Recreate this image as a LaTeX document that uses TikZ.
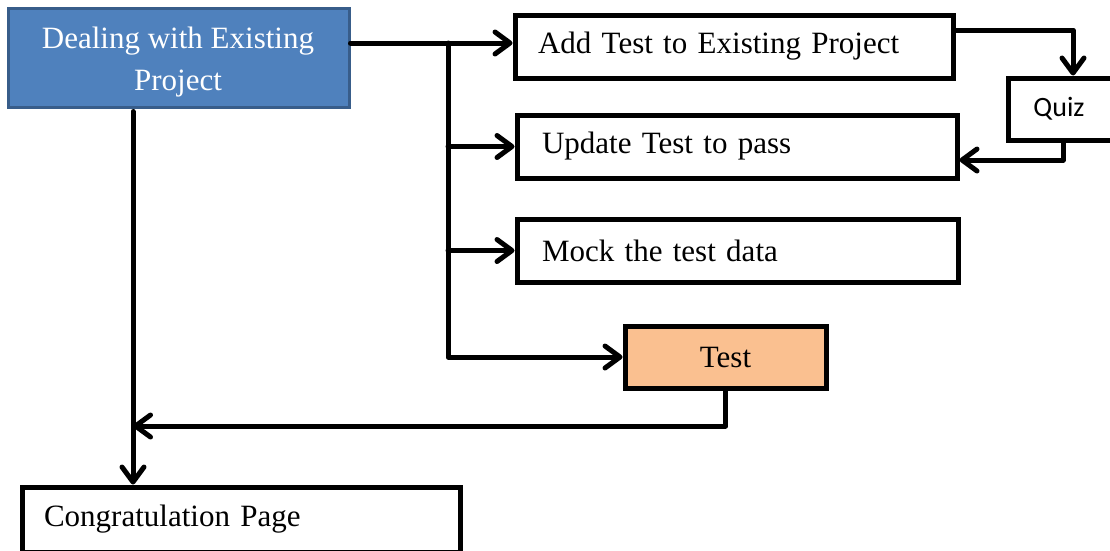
\documentclass[tikz,border=0pt]{standalone}
\usepackage{fontspec}
\setmainfont{Liberation Serif}
\newfontfamily\quizfont{Carlito}
\usetikzlibrary{arrows.meta}

\definecolor{headblue}{HTML}{4F81BD}
\definecolor{headedge}{HTML}{385D8A}
\definecolor{testfill}{HTML}{FAC090}

\tikzset{
  box/.style={draw=black, line width=5pt, fill=white, inner ysep=0pt,
    font=\fontsize{31}{36}\selectfont},
  leftbox/.style={box, align=left},
  wire/.style={line width=5pt, line cap=round, line join=round},
  arr/.style={wire, -{Straight Barb[length=15pt, width=22pt, line width=5pt, round]}},
}

\begin{document}
\begin{tikzpicture}[x=1pt, y=-1pt]
\useasboundingbox (0,0) rectangle (1110,550);

% header box and its two-line title
\node[draw=headedge, line width=3pt, fill=headblue,
      minimum width=341pt, minimum height=99pt, inner sep=0pt] (head) at (178.5,57.5) {};
\node[text=white, align=center, inner sep=0pt,
      font=\fontsize{31}{42}\selectfont] (title) at (178,62.5)
  {Dealing with Existing\\Project};

% step boxes on the right
\node[leftbox, text width=392pt, inner xsep=23pt, minimum height=63pt] (add) at (734,46.5)
  {Add Test to Existing Project};
\node[leftbox, text width=390pt, inner xsep=25pt, minimum height=63pt] (upd) at (737,146.5)
  {Update Test to pass};
\node[leftbox, text width=391pt, inner xsep=25pt, minimum height=63pt] (mock) at (737.5,250.5)
  {Mock the test data};
\node[box, fill=testfill, minimum width=201pt, minimum height=62pt, inner xsep=0pt] (test) at (725.5,357)
  {Test};
\node[box, minimum width=106pt, minimum height=62pt, inner xsep=0pt,
      font=\quizfont\fontsize{28}{32}\selectfont] (quiz) at (1061,109)
  {\hspace*{-4pt}Quiz};
\node[leftbox, text width=394pt, inner xsep=22pt, minimum height=65pt] (congr) at (241,519.5)
  {Congratulation Page};

% routing points
\coordinate (j0) at (448,43);
\coordinate (qa) at (1073,30);
\coordinate (qb) at (1063,160);
\coordinate (lt) at (133,426);

% main feed and trunk
\draw[arr] (head.east |- j0) -- (add.west |- j0);
\draw[arr] (j0) |- (test.west);
\draw[arr] (j0 |- upd.west) -- (upd.west);
\draw[arr] (j0 |- mock.west) -- (mock.west);

% quiz loop
\draw[arr] (add.east |- qa) -| (quiz.north -| qa);
\draw[arr] (quiz.south -| qb) |- (upd.east |- qb);

% return path to the final page
\draw[arr] (test.south) |- (lt);
\draw[arr] ([yshift=-3pt]head.south -| lt) -- (congr.north -| lt);
\end{tikzpicture}
\end{document}
